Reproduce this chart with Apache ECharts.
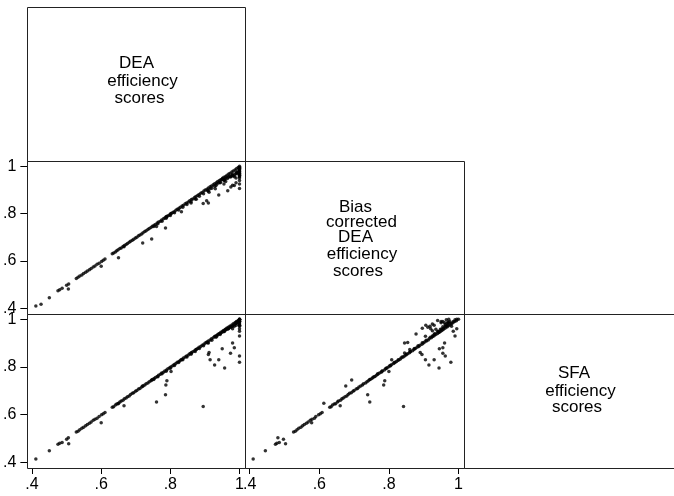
<!DOCTYPE html>
<html>
<head>
<meta charset="utf-8">
<script src="https://cdn.jsdelivr.net/npm/echarts@6/dist/echarts.min.js"></script>
<style>
html,body{margin:0;padding:0;background:#fff;}
#chart{width:674px;height:496px;}
</style>
</head>
<body>
<div id="chart"></div>
<script>
// Variable labels shown on the diagonal
const varLabels = [
  ['DEA', 'efficiency', 'scores'],
  ['Bias', 'corrected', 'DEA', 'efficiency', 'scores'],
  ['SFA', 'efficiency', 'scores']
];
const tickValues = [0.4, 0.6, 0.8, 1];
const tickLabels = ['.4', '.6', '.8', '1'];

// Observations (same index = same unit)
const dea = [
  .411,.426,.450,.475,.480,.487,.505,.500,.506,.528,.533,.538,.544,.549,.555,.560,.566,.571,.577,.582,.588,.594,.600,.601,.606,.611,
  .632,.636,.641,.645,.649,.654,.658,.663,.667,.672,.676,.681,.685,.690,.694,.699,.703,.708,.712,.717,
  .721,.726,.730,.735,.739,.744,.748,.753,.757,.762,.766,.771,.775,.780,.784,.789,.793,.798,.802,.807,
  .811,.816,.820,.825,.829,.834,.838,.843,.847,.852,.856,.861,.865,.870,.874,.879,.883,.888,.892,.897,
  .901,.906,.910,.915,.919,.924,.928,.933,.937,.942,.946,.951,.955,.960,.964,.969,.973,.978,.982,.987,.991,.996,1,
  .650,.666,.720,.746,.760,.786,.787,.790,.802,.832,.895,.905,.910,.940,.966,.975,.985,1,.910,.912,.915,.928,.940,.950,.957,.974,1,1,.980,.985,
  .860,.875,.930,.955,.960,.990,1,1,1,1,1,1,1,.995,.990,1,.990,.980,1,1,1,
  .752,.764,.776,.788,.800,.812,.824,.836,.848,.860,.872,.884,.896,.908,.920,.932,.944,.956,.968,.980,.992,
  .935,.945,.955,.965,.975,.985,.995,.950,.960,.970,.980,.990,1,1,1,1
];
const bcDea = [
  .410,.417,.445,.474,.478,.485,.481,.497,.503,.526,.531,.536,.541,.547,.552,.557,.563,.568,.574,.579,.586,.590,.578,.598,.603,.608,
  .630,.634,.638,.643,.647,.652,.655,.661,.665,.669,.674,.679,.683,.687,.692,.697,.700,.706,.710,.714,
  .719,.724,.727,.733,.737,.741,.746,.751,.754,.760,.764,.768,.773,.778,.781,.787,.791,.795,.800,.805,
  .808,.814,.818,.822,.827,.832,.835,.841,.845,.849,.854,.859,.862,.868,.872,.876,.881,.886,.889,.895,
  .899,.903,.908,.913,.916,.922,.926,.930,.935,.940,.943,.949,.953,.957,.962,.967,.970,.976,.980,.984,.989,.994,1,
  .613,.660,.676,.693,.745,.739,.785,.788,.800,.808,.842,.854,.845,.878,.896,.912,.918,.906,.895,.890,.905,.915,.930,.945,.944,.955,.962,.978,.960,.955,
  .845,.860,.905,.925,.935,.950,.940,.955,.965,.972,.985,.990,.995,.975,.970,.925,.930,.920,.990,.985,.995,
  .745,.757,.768,.780,.792,.803,.815,.827,.838,.850,.861,.873,.884,.896,.907,.919,.930,.942,.953,.965,.976,
  .925,.932,.940,.948,.955,.962,.970,.945,.950,.958,.962,.968,.950,.960,.970,.980
];
const sfa = [
  .414,.396,.448,.476,.480,.483,.503,.497,.478,.527,.530,.537,.543,.547,.553,.558,.564,.569,.576,.580,.585,.592,.566,.599,.604,.609,
  .631,.633,.640,.644,.646,.653,.657,.660,.666,.670,.675,.678,.684,.689,.692,.698,.701,.707,.709,.716,
  .720,.724,.729,.733,.738,.742,.747,.751,.756,.760,.765,.769,.774,.778,.783,.787,.792,.796,.801,.805,
  .810,.814,.819,.823,.828,.832,.837,.841,.846,.850,.855,.859,.864,.868,.873,.877,.882,.886,.891,.895,
  .900,.904,.909,.913,.918,.922,.927,.931,.936,.940,.945,.949,.954,.958,.963,.967,.972,.976,.981,.985,.990,.994,1,
  .648,.637,.720,.745,.653,.683,.724,.742,.781,.830,.634,.902,.900,.938,.962,.966,.970,.975,.852,.860,.830,.808,.830,.876,.795,.857,.846,.820,.900,.880,
  .858,.873,.928,.952,.958,.985,.995,.990,.998,1,.990,.998,1,.990,.985,.980,.975,.960,.930,.950,.960,
  .747,.759,.771,.782,.794,.806,.818,.830,.842,.853,.865,.877,.889,.901,.912,.924,.936,.948,.960,.971,.983,
  .930,.940,.948,.958,.968,.978,.988,.945,.955,.963,.972,.982,.990,.985,.975,.970
];

function pairs(xs, ys) {
  const n = Math.min(xs.length, ys.length);
  const out = [];
  for (let i = 0; i < n; i++) out.push([xs[i], ys[i]]);
  return out;
}
function fmt(v) {
  const i = tickValues.findIndex(t => Math.abs(t - v) < 1e-6);
  return i >= 0 ? tickLabels[i] : '';
}

const FONT = '"Liberation Sans", Arial, Helvetica, sans-serif';
const chart = echarts.init(document.getElementById('chart'), null, {renderer: 'canvas'});

// panel geometry
const colL = [27, 245, 464];
const colR = [245, 464, 683];
const rowT = [7, 161, 314];
const rowB = [161, 314, 468];
const inset = {l: 4.7, r: 5.5, t: 5.2, b: 5.7};

function gridFor(r, c) {
  return {
    left: colL[c] + inset.l,
    top: rowT[r] + inset.t,
    width: (colR[c] - colL[c]) - inset.l - inset.r,
    height: (rowB[r] - rowT[r]) - inset.t - inset.b,
    containLabel: false
  };
}

const cells = [
  {r: 1, c: 0, x: dea, y: bcDea, showX: false, showY: true},
  {r: 2, c: 0, x: dea, y: sfa, showX: true, showY: true},
  {r: 2, c: 1, x: bcDea, y: sfa, showX: true, showY: false}
];

const grids = [], xAxes = [], yAxes = [], series = [];
cells.forEach((cell, i) => {
  grids.push(gridFor(cell.r, cell.c));
  xAxes.push({
    type: 'value', gridIndex: i, min: 0.4, max: 1, interval: 0.2,
    show: cell.showX, position: 'bottom', offset: inset.b,
    axisLine: {show: false},
    axisTick: {show: true, length: 6, lineStyle: {color: '#000', width: 1}},
    axisLabel: {show: true, margin: 9, color: '#000', fontSize: 16, fontFamily: FONT, formatter: fmt},
    splitLine: {show: false}
  });
  yAxes.push({
    type: 'value', gridIndex: i, min: 0.4, max: 1, interval: 0.2,
    show: cell.showY, position: 'left', offset: inset.l,
    axisLine: {show: false},
    axisTick: {show: true, length: 7, lineStyle: {color: '#000', width: 1}},
    axisLabel: {show: true, margin: 11, color: '#000', fontSize: 16, fontFamily: FONT, formatter: fmt},
    splitLine: {show: false}
  });
  series.push({
    type: 'scatter', xAxisIndex: i, yAxisIndex: i,
    data: pairs(cell.x, cell.y),
    symbol: 'circle', symbolSize: 3.5,
    itemStyle: {color: '#000'},
    silent: true, animation: false
  });
});

// frames
const frames = [[0,0],[1,0],[1,1],[2,0],[2,1],[2,2]];
const graphic = frames.map(([r, c]) => ({
  type: 'rect', silent: true, z: 100,
  shape: {x: colL[c] + 0.5, y: rowT[r] + 0.5, width: colR[c] - colL[c], height: rowB[r] - rowT[r]},
  style: {fill: 'none', stroke: '#222', lineWidth: 1}
}));

// diagonal labels (each line positioned individually)
const labelPos = [
  [[136.5, 63.5], [142.5, 81.5], [139.5, 98]],
  [[355.5, 207.5], [361.5, 222], [355.5, 237], [362, 254.5], [358, 271]],
  [[574, 373], [580.5, 391], [577, 407]]
];
varLabels.forEach((lines, k) => {
  lines.forEach((t, j) => {
    graphic.push({
      type: 'text', silent: true, z: 101,
      x: labelPos[k][j][0], y: labelPos[k][j][1],
      style: {text: t, fill: '#000', font: '17px ' + FONT, textAlign: 'center', textVerticalAlign: 'middle'}
    });
  });
});

chart.setOption({
  animation: false,
  backgroundColor: '#fff',
  grid: grids,
  xAxis: xAxes,
  yAxis: yAxes,
  series: series,
  graphic: graphic
});
</script>
</body>
</html>
